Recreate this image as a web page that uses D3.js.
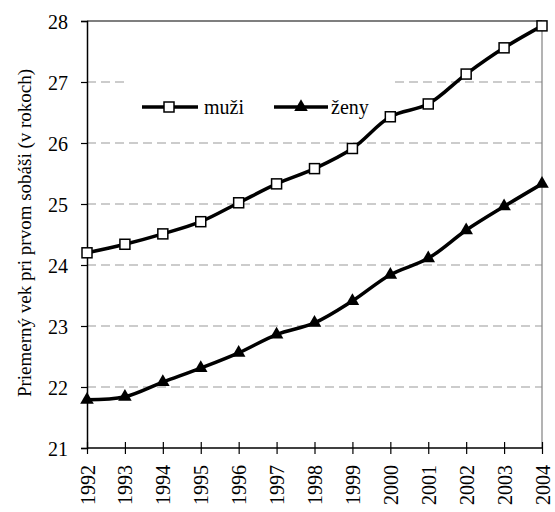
<!DOCTYPE html>
<html><head><meta charset="utf-8">
<script src="https://cdn.jsdelivr.net/npm/d3@7"></script>
</head><body style="margin:0">
<script>
const years = [1992,1993,1994,1995,1996,1997,1998,1999,2000,2001,2002,2003,2004];
const muzi = [24.2,24.34,24.51,24.71,25.02,25.33,25.58,25.91,26.43,26.64,27.13,27.56,27.92];
const zeny = [21.79,21.84,22.08,22.31,22.56,22.86,23.05,23.41,23.84,24.11,24.57,24.96,25.33];
const yTicks = [21,22,23,24,25,26,27,28];
const seriesNames = ["muži","ženy"];
const yLabel = "Priemerný vek pri prvom sobáši (v rokoch)";

const W=555,H=512;
const m={l:87,r:542,t:21,b:448};
const svg=d3.select("body").append("svg").attr("width",W).attr("height",H);
const x=d3.scalePoint().domain(years).range([m.l,m.r]);
const y=d3.scaleLinear().domain([21,28]).range([m.b,m.t]);
function tx(sel,size){ return sel.style("font-family","'Times New Roman'").style("font-size",size+"px"); }

const legBox={x0:126,x1:394,y0:75,y1:138};
svg.append("g").selectAll("line").data(yTicks.filter(t=>t>21&&t<28)).join("line")
  .attr("x1",m.l).attr("x2",m.r).attr("y1",d=>y(d)).attr("y2",d=>y(d))
  .attr("stroke","#999").attr("stroke-width",1).attr("stroke-dasharray","9,5");
svg.append("rect").attr("x",legBox.x0).attr("y",legBox.y0).attr("width",legBox.x1-legBox.x0).attr("height",legBox.y1-legBox.y0).attr("fill","#fff");

svg.append("line").attr("x1",m.l).attr("x2",m.r).attr("y1",m.t).attr("y2",m.t).attr("stroke","#000").attr("stroke-width",1.2);
svg.append("line").attr("x1",m.r).attr("x2",m.r).attr("y1",m.t).attr("y2",m.b).attr("stroke","#808080").attr("stroke-width",1.2);

const ya=svg.append("g").attr("transform",`translate(${m.l},0)`)
  .call(d3.axisLeft(y).tickValues(yTicks).tickSize(6).tickPadding(13).tickFormat(d3.format("d")));
ya.select(".domain").attr("stroke","#000").attr("stroke-width",1.5);
ya.selectAll(".tick line").attr("stroke","#000").attr("stroke-width",1.2);
tx(ya.selectAll("text"),20).attr("dy","0.35em");

const xa=svg.append("g").attr("transform",`translate(0,${m.b})`)
  .call(d3.axisBottom(x).tickSizeInner(6).tickSizeOuter(0).tickFormat(d3.format("d")));
xa.select(".domain").attr("stroke","#000").attr("stroke-width",1.5).attr("d",`M${m.l},0H${m.r}`);
xa.selectAll(".tick line").attr("stroke","#000").attr("stroke-width",1.2).attr("y1",-6).attr("y2",6);
tx(xa.selectAll("text"),20).attr("transform","rotate(-90)").attr("text-anchor","end").attr("x",-17).attr("y",0).attr("dy","0.35em");

tx(svg.append("text"),19).attr("transform","translate(31,233) rotate(-90)").attr("text-anchor","middle").text(yLabel);

const line=d3.line().x((d,i)=>x(years[i])).y(d=>y(d)).curve(d3.curveCatmullRom.alpha(0.5));
svg.append("path").attr("d",line(muzi)).attr("fill","none").attr("stroke","#000").attr("stroke-width",3.5);
svg.append("path").attr("d",line(zeny)).attr("fill","none").attr("stroke","#000").attr("stroke-width",3.5);

const sq=10, tri=d3.symbol().type(d3.symbolTriangle).size(80);
svg.append("g").selectAll("rect").data(muzi).join("rect")
  .attr("x",(d,i)=>x(years[i])-sq/2).attr("y",d=>y(d)-sq/2).attr("width",sq).attr("height",sq)
  .attr("fill","#fff").attr("stroke","#000").attr("stroke-width",1.5);
svg.append("g").selectAll("path").data(zeny).join("path")
  .attr("d",tri).attr("transform",(d,i)=>`translate(${x(years[i])},${y(d)})`).attr("fill","#000");

const lg=svg.append("g");
lg.append("line").attr("x1",142).attr("x2",198).attr("y1",107).attr("y2",107).attr("stroke","#000").attr("stroke-width",3.5);
lg.append("rect").attr("x",169-sq/2).attr("y",107-sq/2).attr("width",sq).attr("height",sq).attr("fill","#fff").attr("stroke","#000").attr("stroke-width",1.5);
tx(lg.append("text"),20).attr("x",204).attr("y",107).attr("dy","0.35em").text(seriesNames[0]);
lg.append("line").attr("x1",274).attr("x2",328).attr("y1",107).attr("y2",107).attr("stroke","#000").attr("stroke-width",3.5);
lg.append("path").attr("d",tri).attr("transform","translate(301,107)").attr("fill","#000");
tx(lg.append("text"),20).attr("x",331).attr("y",107).attr("dy","0.35em").text(seriesNames[1]);
</script>
</body></html>
